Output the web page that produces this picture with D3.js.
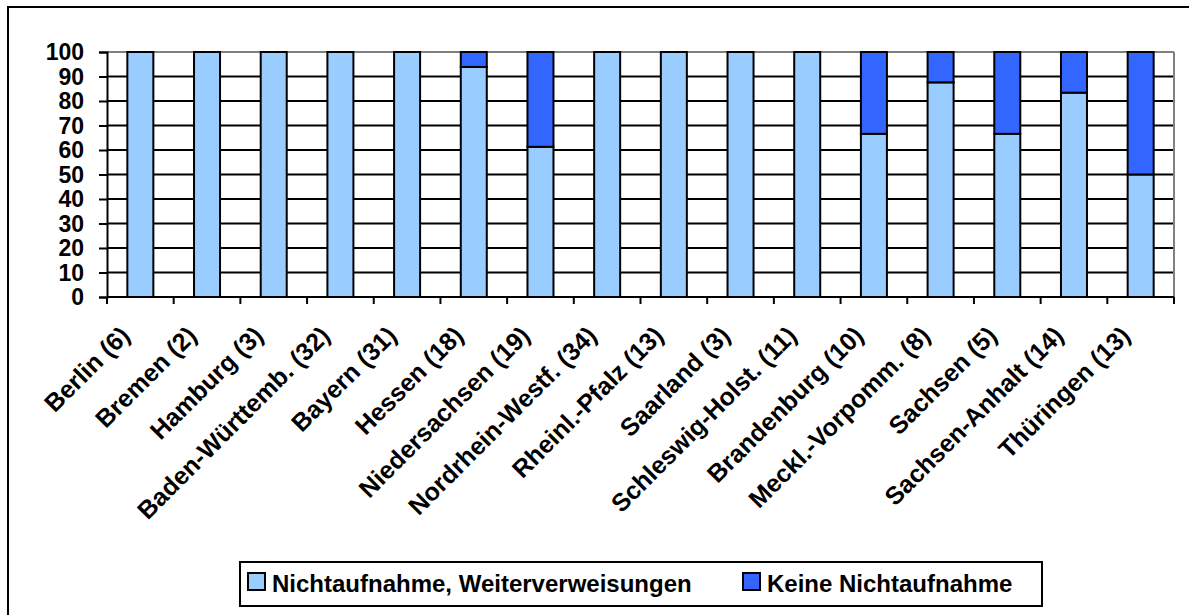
<!DOCTYPE html>
<html>
<head>
<meta charset="utf-8">
<script src="https://cdn.jsdelivr.net/npm/d3@7"></script>
<style>
  html, body { margin: 0; padding: 0; background: #fff; }
  svg { display: block; }
  text { font-family: "Liberation Sans", Arial, sans-serif; font-weight: bold; fill: #000; }
</style>
</head>
<body>
<svg id="chart" width="1189" height="615"></svg>
<script>
const categories = ["Berlin (6)", "Bremen (2)", "Hamburg (3)", "Baden-Württemb. (32)", "Bayern (31)",
  "Hessen (18)", "Niedersachsen (19)", "Nordrhein-Westf. (34)", "Rheinl.-Pfalz (13)", "Saarland (3)",
  "Schleswig-Holst. (11)", "Brandenburg (10)", "Meckl.-Vorpomm. (8)", "Sachsen (5)", "Sachsen-Anhalt (14)", "Thüringen (13)"];
const seriesNames = ["Nichtaufnahme, Weiterverweisungen", "Keine Nichtaufnahme"];
const nichtaufnahme = [100, 100, 100, 100, 100, 93.9, 61.3, 100, 100, 100, 100, 66.6, 87.6, 66.6, 83.4, 50];
const keineNichtaufnahme = [0, 0, 0, 0, 0, 6.1, 38.7, 0, 0, 0, 0, 33.4, 12.4, 33.4, 16.6, 50];
const yTicks = [0, 10, 20, 30, 40, 50, 60, 70, 80, 90, 100];
const colors = ["#99CCFF", "#3366FF"];

const svg = d3.select("#chart");
const margin = { left: 107, right: 1174, top: 52, bottom: 297 };

// outer frame
svg.append("rect").attr("x", 8).attr("y", 7).attr("width", 1200).attr("height", 640)
  .attr("fill", "none").attr("stroke", "#000").attr("stroke-width", 2);

const x = d3.scaleBand().domain(categories).range([margin.left, margin.right]).padding(0);
const y = d3.scaleLinear().domain([0, 100]).range([margin.bottom, margin.top]);

// gridlines
svg.append("g").selectAll("line").data(yTicks.filter(d => d > 0)).join("line")
  .attr("x1", margin.left).attr("x2", margin.right)
  .attr("y1", d => y(d)).attr("y2", d => y(d))
  .attr("stroke", d => d === 100 ? "#808080" : "#000").attr("stroke-width", 2);
// right border of plot area
svg.append("line").attr("x1", margin.right).attr("x2", margin.right)
  .attr("y1", y(100)).attr("y2", y(0)).attr("stroke", "#808080").attr("stroke-width", 2);

// stacked bars
const rows = categories.map((c, i) => ({ c, v: [nichtaufnahme[i], keineNichtaufnahme[i]] }));
const stack = d3.stack().keys([0, 1]).value((d, k) => d.v[k]);
const stacked = stack(rows);
const barW = x.bandwidth() * 0.39;
svg.append("g").selectAll("g").data(stacked).join("g")
  .attr("fill", (d, i) => colors[i])
  .selectAll("rect").data(d => d.filter(s => s[1] - s[0] > 0)).join("rect")
  .attr("x", d => x(d.data.c) + (x.bandwidth() - barW) / 2)
  .attr("width", barW)
  .attr("y", d => y(d[1]))
  .attr("height", d => y(d[0]) - y(d[1]))
  .attr("stroke", "#000").attr("stroke-width", 2);

// y axis
const yAxis = d3.axisLeft(y).tickValues(yTicks).tickSize(8).tickPadding(15);
const gy = svg.append("g").attr("transform", `translate(${margin.left},0)`).call(yAxis);
gy.select(".domain").attr("stroke", "#000").attr("stroke-width", 2);
gy.selectAll(".tick line").attr("stroke", "#000").attr("stroke-width", 2);
gy.selectAll(".tick text").style("font-size", "23px").style("font-family", "'Liberation Sans', Arial, sans-serif")
  .style("font-weight", "bold").attr("dy", "0.34em");

// x axis: line + ticks at category boundaries
svg.append("line").attr("x1", margin.left).attr("x2", margin.right)
  .attr("y1", y(0)).attr("y2", y(0)).attr("stroke", "#000").attr("stroke-width", 2);
const boundaries = categories.map(c => x(c)).concat([margin.right]);
svg.append("g").selectAll("line").data(boundaries).join("line")
  .attr("x1", d => d).attr("x2", d => d)
  .attr("y1", y(0)).attr("y2", y(0) + 7).attr("stroke", "#000").attr("stroke-width", 2);

svg.append("g").selectAll("text").data(categories).join("text")
  .attr("transform", d => `translate(${x(d) + x.bandwidth() / 2 - 9},${y(0) + 40}) rotate(-45)`)
  .attr("text-anchor", "end")
  .style("font-size", "25px")
  .text(d => d);

// legend
const lg = svg.append("g");
lg.append("rect").attr("x", 240).attr("y", 562).attr("width", 802).attr("height", 44)
  .attr("fill", "#fff").attr("stroke", "#000").attr("stroke-width", 2);
const legendX = [248, 743];
seriesNames.forEach((name, i) => {
  lg.append("rect").attr("x", legendX[i]).attr("y", 573).attr("width", 17).attr("height", 17)
    .attr("fill", colors[i]).attr("stroke", "#000").attr("stroke-width", 2);
  lg.append("text").attr("x", legendX[i] + 24).attr("y", 592).style("font-size", "24px").text(name);
});
</script>
</body>
</html>
